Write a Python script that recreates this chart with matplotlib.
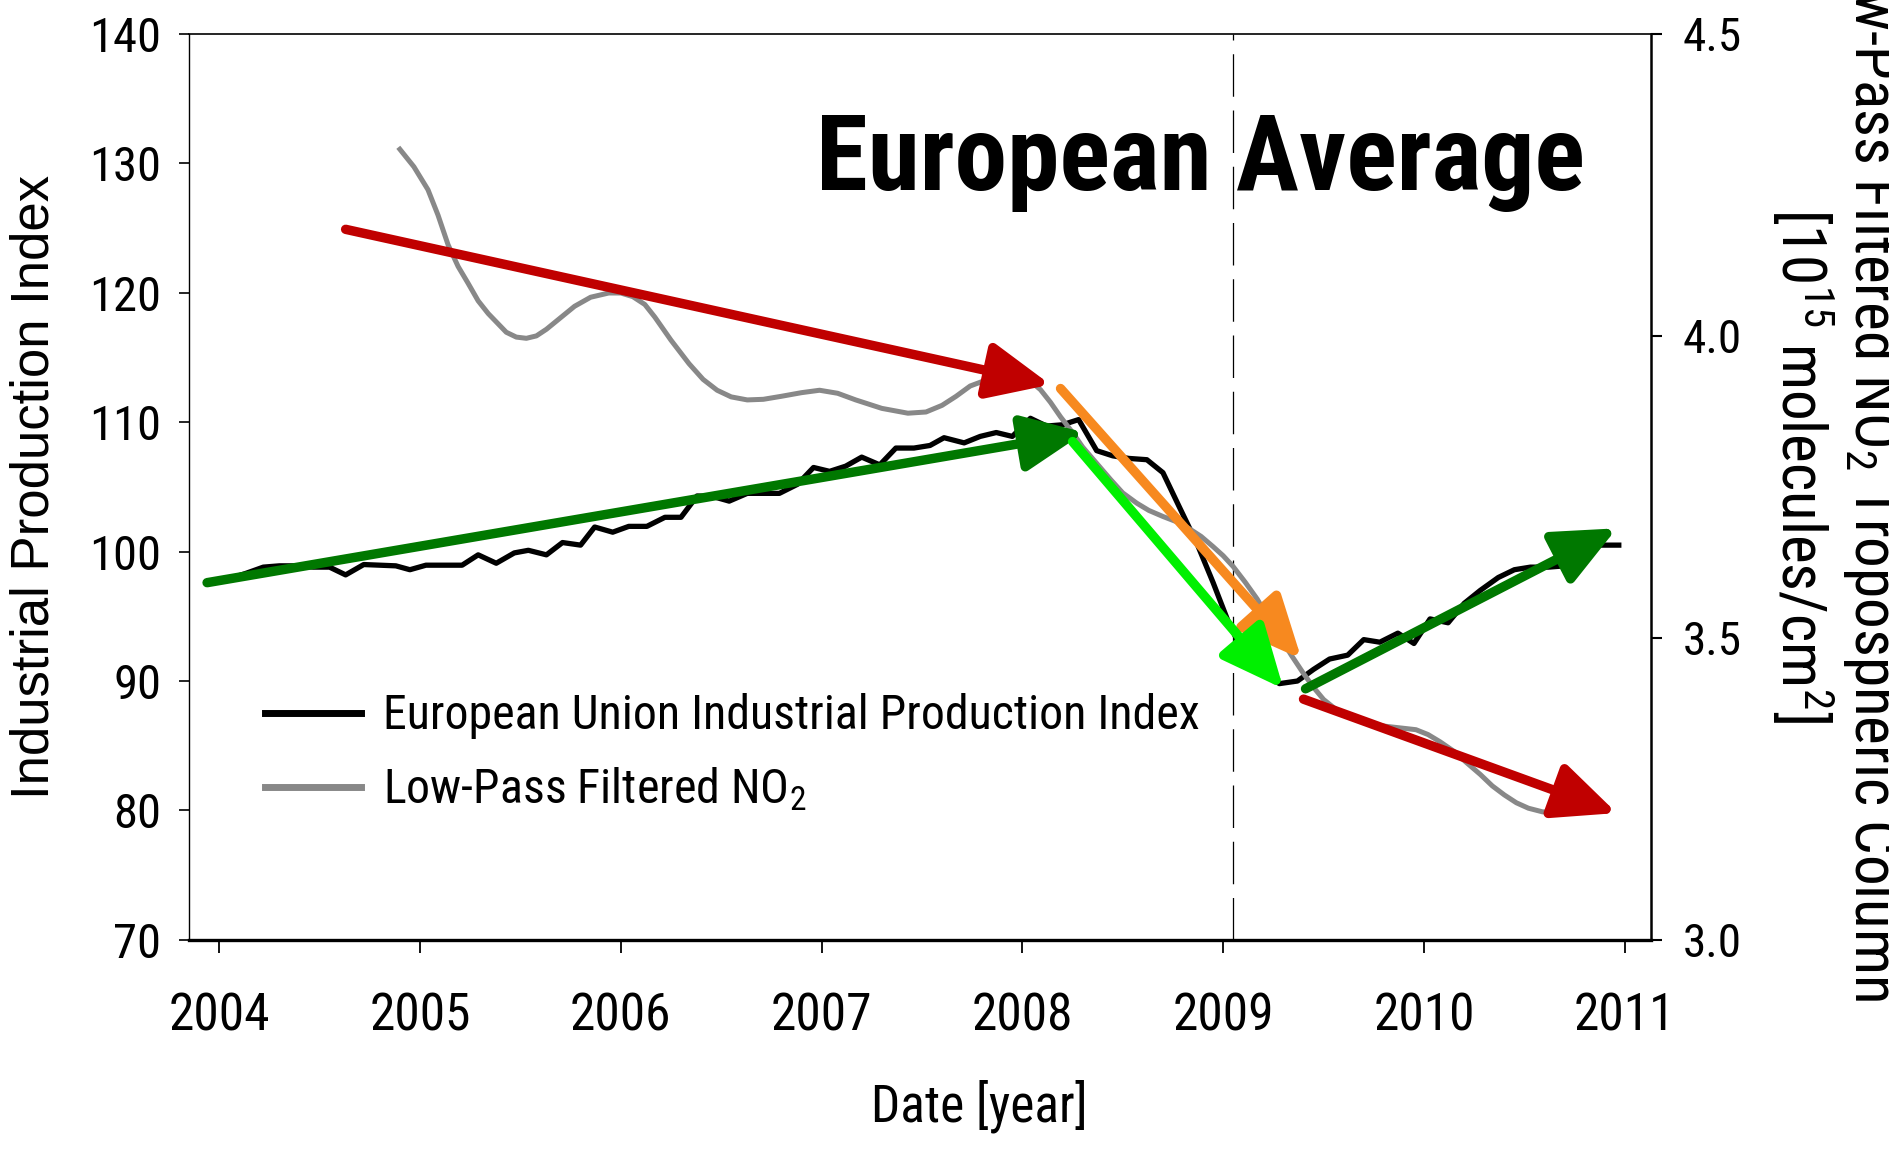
import numpy as np
import matplotlib
matplotlib.use("Agg")
import matplotlib.pyplot as plt
from matplotlib import font_manager

###fonts: the original uses a narrow Arial-like face; take a condensed one if installed
prefer = ['Liberation Sans Narrow', 'Arial Narrow', 'Roboto Condensed', 'Open Sans Condensed',
          'Noto Sans Condensed', 'DejaVu Sans']
cond_names = {}
for f in font_manager.fontManager.ttflist:
    st = str(f.stretch).lower()
    if 'narrow' in f.name.lower() or 'condensed' in f.name.lower() or 'condensed' in st:
        cond_names.setdefault(f.name, st)
cond_font = None
for n in prefer:
    if n in cond_names:
        cond_font = n
        break
if cond_font is None and cond_names:
    cond_font = sorted(cond_names)[0]

if cond_font is not None:
    plt.rcParams['font.family'] = [cond_font, 'Liberation Sans', 'DejaVu Sans']
    if 'condensed' in cond_names[cond_font]:
        plt.rcParams['font.stretch'] = cond_names[cond_font]
    sz = dict(xt=37, yt=35, rt=34, leg=34.5, title=76, xlab=37, rlab=44)
else:
    plt.rcParams['font.family'] = ['Liberation Sans', 'DejaVu Sans']
    sz = dict(xt=32, yt=29, rt=29, leg=30, title=62, xlab=31, rlab=38)
plt.rcParams['mathtext.default'] = 'regular'

###data: EU industrial production index (left axis)
ipi_year = [2003.95, 2004.05, 2004.13, 2004.22, 2004.30, 2004.38, 2004.47, 2004.55, 2004.63, 2004.72,
            2004.80, 2004.88, 2004.95, 2005.03, 2005.12, 2005.21, 2005.29, 2005.38, 2005.47, 2005.54,
            2005.63, 2005.71, 2005.80, 2005.87, 2005.96, 2006.04, 2006.13, 2006.22, 2006.30, 2006.38,
            2006.46, 2006.54, 2006.63, 2006.71, 2006.79, 2006.88, 2006.96, 2007.04, 2007.12, 2007.20,
            2007.29, 2007.37, 2007.46, 2007.54, 2007.61, 2007.71, 2007.79, 2007.87, 2007.95, 2008.04,
            2008.12, 2008.20, 2008.28, 2008.37, 2008.45, 2008.53, 2008.62, 2008.70, 2008.78, 2008.87,
            2008.95, 2009.03, 2009.12, 2009.20, 2009.28, 2009.37, 2009.45, 2009.53, 2009.62, 2009.70,
            2009.78, 2009.87, 2009.95, 2010.03, 2010.12, 2010.20, 2010.28, 2010.37, 2010.45, 2010.53,
            2010.62, 2010.70, 2010.78, 2010.87, 2010.97]
ipi_value = [97.6, 97.9, 98.3, 98.8, 98.9, 98.9, 98.8, 98.8, 98.2, 99.0,
             98.95, 98.9, 98.6, 98.95, 98.95, 98.95, 99.75, 99.1, 99.9, 100.1,
             99.75, 100.7, 100.5, 101.9, 101.5, 101.95, 101.95, 102.65, 102.65, 104.3,
             104.25, 103.9, 104.5, 104.5, 104.5, 105.2, 106.5, 106.2, 106.6, 107.3,
             106.7, 108.0, 108.0, 108.2, 108.8, 108.4, 108.9, 109.2, 108.9, 110.3,
             109.7, 109.8, 110.2, 107.8, 107.4, 107.2, 107.1, 106.1, 103.5, 100.6,
             97.6, 94.4, 91.6, 90.6, 89.8, 90.0, 90.9, 91.7, 92.0, 93.2,
             93.0, 93.7, 92.9, 94.8, 94.5, 96.0, 97.0, 98.0, 98.6, 98.8,
             98.8, 98.9, 99.3, 100.5, 100.5]

###data: low-pass filtered NO2 column (right axis, 1e15 molecules/cm2)
no2_year = [2004.90, 2004.97, 2005.04, 2005.09, 2005.14, 2005.19, 2005.24, 2005.29, 2005.34, 2005.43,
            2005.48, 2005.53, 2005.58, 2005.63, 2005.70, 2005.77, 2005.85, 2005.94, 2006.00, 2006.06,
            2006.12, 2006.17, 2006.25, 2006.34, 2006.41, 2006.48, 2006.55, 2006.63, 2006.71, 2006.80,
            2006.90, 2006.99, 2007.08, 2007.17, 2007.30, 2007.43, 2007.52, 2007.60, 2007.67, 2007.74,
            2007.82, 2007.91, 2007.98, 2008.04, 2008.09, 2008.14, 2008.19, 2008.25, 2008.30, 2008.37,
            2008.44, 2008.50, 2008.57, 2008.63, 2008.70, 2008.77, 2008.83, 2008.89, 2008.95, 2009.00,
            2009.05, 2009.11, 2009.17, 2009.22, 2009.28, 2009.34, 2009.40, 2009.45, 2009.50, 2009.56,
            2009.63, 2009.71, 2009.80, 2009.88, 2009.96, 2010.02, 2010.08, 2010.15, 2010.21, 2010.28,
            2010.34, 2010.40, 2010.46, 2010.52, 2010.59, 2010.65, 2010.72]
no2_value = [4.309, 4.280, 4.242, 4.200, 4.151, 4.115, 4.087, 4.058, 4.037, 4.006,
             3.998, 3.996, 4.000, 4.011, 4.030, 4.049, 4.064, 4.071, 4.071, 4.065,
             4.052, 4.031, 3.993, 3.954, 3.928, 3.910, 3.899, 3.894, 3.895, 3.900,
             3.906, 3.910, 3.905, 3.894, 3.880, 3.872, 3.874, 3.885, 3.900, 3.917,
             3.927, 3.932, 3.933, 3.925, 3.911, 3.890, 3.866, 3.840, 3.816, 3.789,
             3.762, 3.740, 3.723, 3.711, 3.701, 3.692, 3.681, 3.668, 3.651, 3.636,
             3.618, 3.592, 3.564, 3.535, 3.503, 3.471, 3.441, 3.418, 3.398, 3.382,
             3.369, 3.360, 3.354, 3.351, 3.348, 3.340, 3.328, 3.312, 3.294, 3.274,
             3.255, 3.240, 3.227, 3.218, 3.212, 3.211, 3.212]

###trend arrows (start/end in left-axis units)
arrow_start = [(2004.63, 124.9), (2003.94, 97.6), (2008.19, 112.6), (2008.25, 108.5), (2009.41, 89.4), (2009.40, 88.6)]
arrow_end = [(2008.14, 112.9), (2008.31, 109.2), (2009.39, 91.7), (2009.30, 89.4), (2010.96, 101.8), (2010.96, 79.8)]
arrow_color = ['#C00000', '#007800', '#F7891F', '#00F000', '#007800', '#C00000']

year_ticks = [2004, 2005, 2006, 2007, 2008, 2009, 2010, 2011]
left_ticks = [70, 80, 90, 100, 110, 120, 130, 140]
right_ticks = [3.0, 3.5, 4.0, 4.5]
crisis_year = 2009.05

###plot
fig = plt.figure(figsize=(18.9, 11.49), dpi=100)
ax = fig.add_axes([0.100, 0.182, 0.7735, 0.7885])
ax2 = ax.twinx()

l1, = ax.plot(ipi_year, ipi_value, color='black', lw=3.8, label='European Union Industrial Production Index')
l2, = ax2.plot(no2_year, no2_value, color='#888888', lw=3.6, label='Low-Pass Filtered NO$_2$')
ax.axvline(crisis_year, color='black', lw=0.9, ls=(0, (34, 11)))

ax.set_xlim(2003.85, 2011.13)
ax.set_ylim(70, 140)
ax2.set_ylim(3.0, 4.5)
ax.set_xticks(year_ticks)
ax.set_yticks(left_ticks)
ax2.set_yticks(right_ticks)
ax2.set_yticklabels(['%.1f' % v for v in right_ticks])

ax.tick_params(axis='x', direction='out', length=9.5, width=1.3, pad=28, labelsize=sz['xt'])
ax.tick_params(axis='y', direction='out', length=7, width=1.2, pad=13, labelsize=sz['yt'])
ax2.tick_params(axis='y', direction='out', length=8, width=1.5, pad=15, labelsize=sz['rt'])

for s in ['left', 'top', 'bottom']:
    ax2.spines[s].set_visible(False)
ax.spines['right'].set_visible(False)
ax.spines['bottom'].set_linewidth(2.4)
ax.spines['left'].set_linewidth(1.0)
ax.spines['top'].set_linewidth(1.2)
ax2.spines['right'].set_linewidth(1.8)

for (x0, y0), (x1, y1), c in zip(arrow_start, arrow_end, arrow_color):
    ax2.annotate('', xy=(x1, y1), xytext=(x0, y0), xycoords=ax.transData, textcoords=ax.transData,
                 arrowprops=dict(arrowstyle='-|>,head_length=1.0,head_width=0.45', mutation_scale=38,
                                 lw=6.8, color=c, shrinkA=0, shrinkB=0))

ax.text(0.692, 0.828, 'European Average', transform=ax.transAxes, ha='center', va='baseline',
        fontsize=sz['title'], fontweight='bold')

leg = ax2.legend([l1, l2], [l1.get_label(), l2.get_label()], loc='upper left',
                 bbox_to_anchor=(0.052, 0.272), frameon=False, fontsize=sz['leg'], borderaxespad=0,
                 borderpad=0, handlelength=2.0, handletextpad=0.46, labelspacing=0.55)
for h in leg.get_lines():
    h.set_linewidth(5)

fig.text(0.018, 0.576, 'Industrial Production Index', rotation=90, ha='center', va='center',
         fontsize=38, family=['Liberation Sans', 'DejaVu Sans'], stretch='normal')
fig.text(0.9715, 0.595, 'Low-Pass Filtered NO$_2$ Tropospheric Column\n[10$^{15}$ molecules/cm$^{2}$]',
         rotation=270, ha='center', va='center', multialignment='center', fontsize=sz['rlab'], linespacing=1.1)
fig.text(0.518, 0.024, 'Date [year]', ha='center', va='baseline', fontsize=sz['xlab'])

fig.savefig('out.png', dpi=100)
